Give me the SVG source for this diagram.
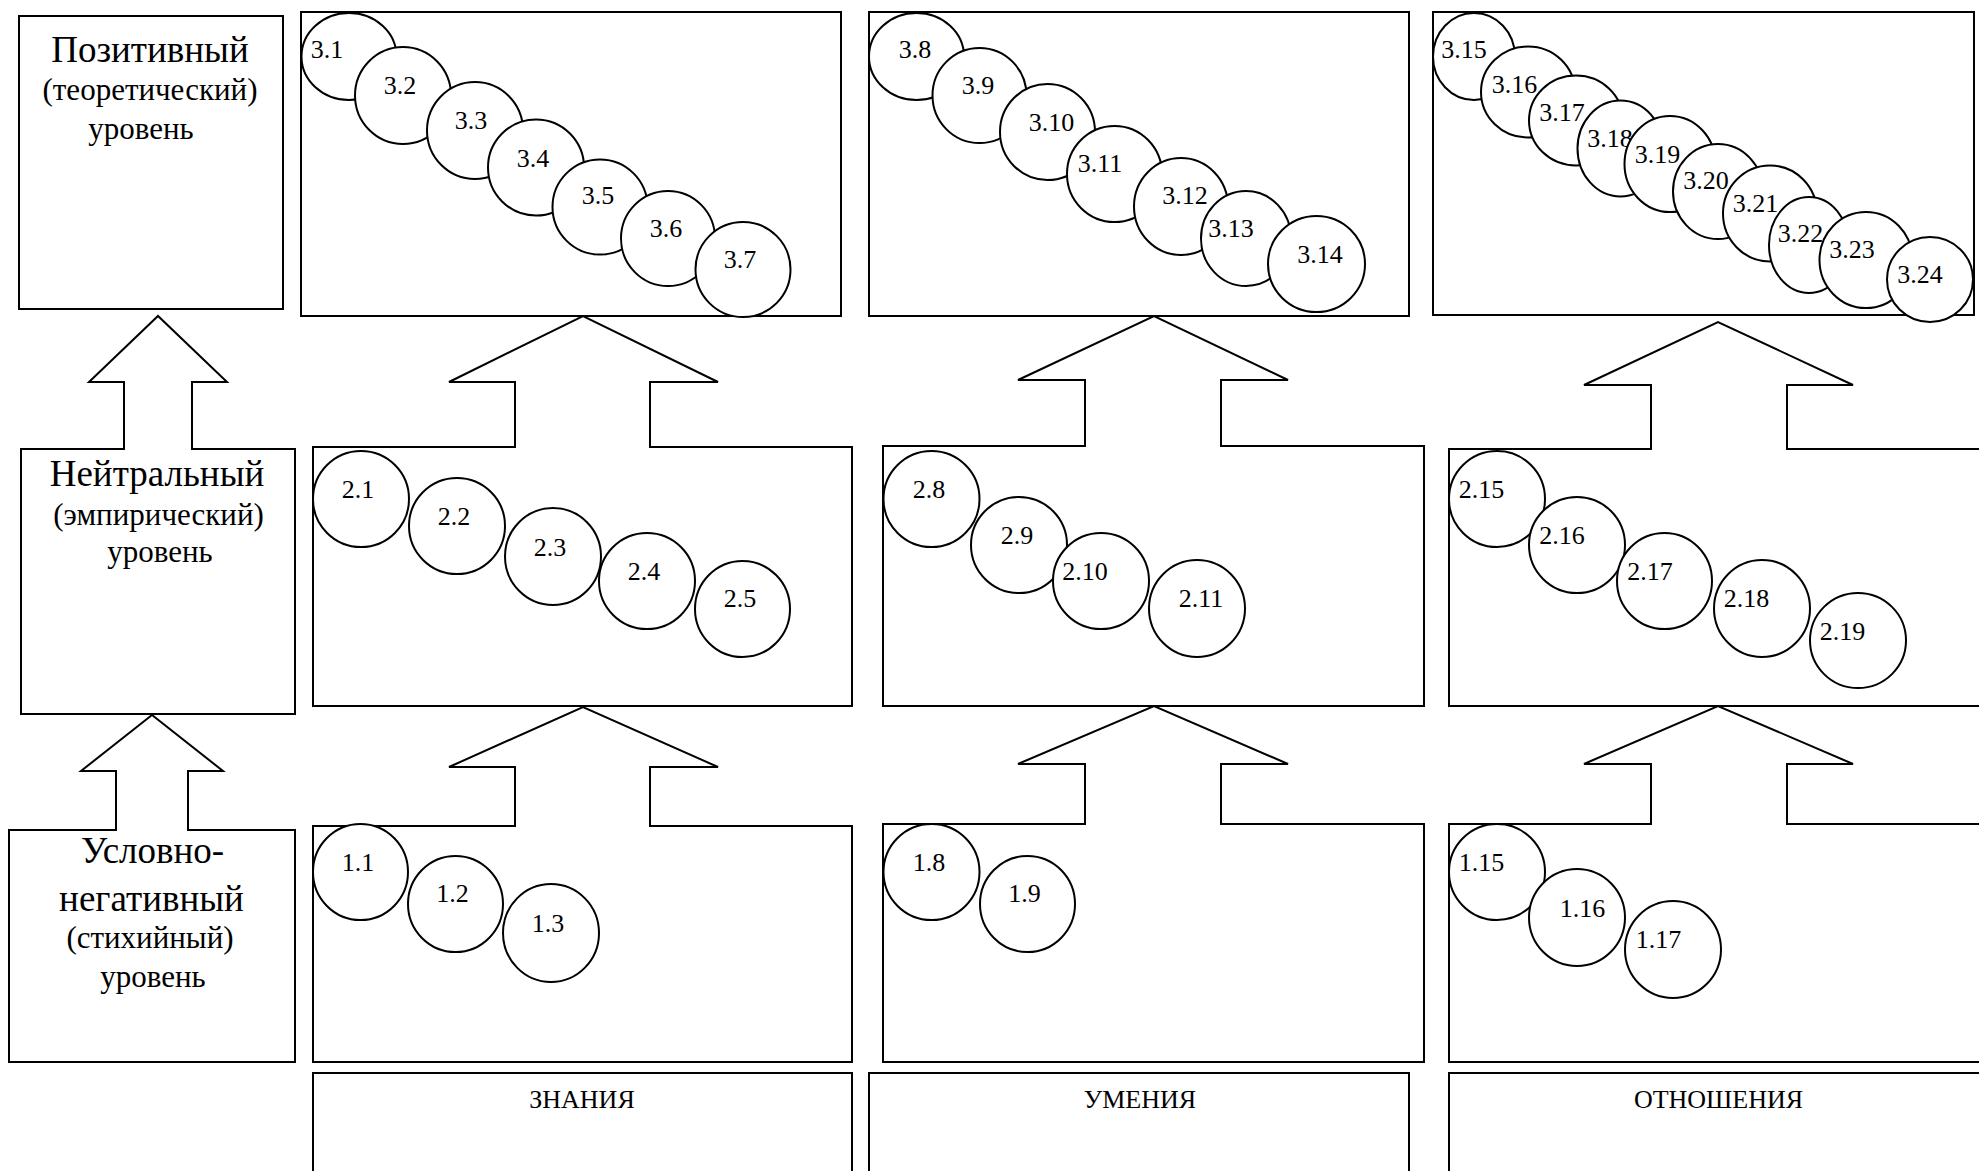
<svg xmlns="http://www.w3.org/2000/svg" width="1979" height="1171" viewBox="0 0 1979 1171">
<style>
.box{fill:#fff;stroke:#000;stroke-width:2}
.arr{fill:#fff;stroke:#000;stroke-width:2;stroke-linejoin:miter}
.nd ellipse{fill:#fff;stroke:#000;stroke-width:2}
text{font-family:"Liberation Serif","Times New Roman",serif;fill:#000}
.nd text{font-size:26px;text-anchor:middle}
.lv{text-anchor:middle}
.big{font-size:37px}
.sm{font-size:31px}
.lb{font-size:26px;text-anchor:middle}
</style>
<rect width="1979" height="1171" fill="#fff"/>

<g id="level-positive">
<rect class="box" x="19" y="16" width="264" height="293"/>
<text class="lv big" x="150" y="62">Позитивный</text>
<text class="lv sm" x="150" y="100">(теоретический)</text>
<text class="lv sm" x="141" y="139">уровень</text>
</g>
<g id="level-neutral">
<rect class="box" x="21" y="449" width="274" height="265"/>
<text class="lv big" x="157" y="486">Нейтральный</text>
<text class="lv sm" x="158.5" y="525">(эмпирический)</text>
<text class="lv sm" x="160" y="562">уровень</text>
</g>
<g id="level-negative">
<rect class="box" x="9" y="830" width="286" height="232"/>
<text class="lv big" x="152.5" y="863">Условно-</text>
<text class="lv big" x="151.5" y="911">негативный</text>
<text class="lv sm" x="150" y="948">(стихийный)</text>
<text class="lv sm" x="153" y="987">уровень</text>
</g>

<g id="box-k3"><rect class="box" x="301" y="12" width="540" height="304"/></g>
<g id="box-k2"><rect class="box" x="313" y="447" width="539" height="259"/></g>
<g id="box-k1"><rect class="box" x="313" y="826" width="539" height="236"/></g>
<g id="box-u3"><rect class="box" x="869" y="12" width="540" height="304"/></g>
<g id="box-u2"><rect class="box" x="883" y="446" width="541" height="260"/></g>
<g id="box-u1"><rect class="box" x="883" y="824" width="541" height="238"/></g>
<g id="box-o3"><rect class="box" x="1433" y="12" width="541" height="303"/></g>
<g id="box-o2"><rect class="box" x="1449" y="449" width="560" height="257"/></g>
<g id="box-o1"><rect class="box" x="1449" y="824" width="560" height="238"/></g>

<g id="label-znaniya"><rect class="box" x="313" y="1073" width="539" height="120"/><text class="lb" x="582" y="1108">ЗНАНИЯ</text></g>
<g id="label-umeniya"><rect class="box" x="869" y="1073" width="540" height="120"/><text class="lb" x="1140" y="1108">УМЕНИЯ</text></g>
<g id="label-otnosheniya"><rect class="box" x="1449" y="1073" width="560" height="120"/><text class="lb" x="1718.5" y="1108">ОТНОШЕНИЯ</text></g>

<g id="connectors">
<path class="arr" d="M124,450 V382 H89 L158,316 L227,382 H192 V450"/>
<path class="arr" d="M116,831 V771 H81 L152,715 L223,771 H188 V831"/>
<path class="arr" d="M515,448 V382 H449 L583,316 L718,382 H650 V448"/>
<path class="arr" d="M515,827 V767 H449 L583,707 L718,767 H650 V827"/>
<path class="arr" d="M1085,447 V380 H1018 L1154,316 L1288,380 H1221 V447"/>
<path class="arr" d="M1085,825 V764 H1018 L1154,706 L1288,764 H1221 V825"/>
<path class="arr" d="M1651,450 V385 H1584 L1718,322 L1853,385 H1787 V450"/>
<path class="arr" d="M1651,825 V764 H1584 L1718,706 L1853,764 H1787 V825"/>
</g>

<g id="n3-1" class="nd"><ellipse cx="349" cy="56.5" rx="47.5" ry="43.5"/><text x="327" y="58">3.1</text></g>
<g id="n3-2" class="nd"><ellipse cx="403" cy="95.5" rx="48" ry="48.5"/><text x="400" y="94">3.2</text></g>
<g id="n3-3" class="nd"><ellipse cx="475" cy="130.5" rx="48" ry="48.5"/><text x="471" y="129">3.3</text></g>
<g id="n3-4" class="nd"><ellipse cx="536" cy="167.5" rx="48" ry="48"/><text x="533" y="167">3.4</text></g>
<g id="n3-5" class="nd"><ellipse cx="600" cy="207" rx="47.5" ry="47.5"/><text x="598" y="204">3.5</text></g>
<g id="n3-6" class="nd"><ellipse cx="668" cy="238.5" rx="47" ry="47.5"/><text x="666" y="237">3.6</text></g>
<g id="n3-7" class="nd"><ellipse cx="743" cy="269.5" rx="47.5" ry="47.5"/><text x="740" y="268">3.7</text></g>

<g id="n3-8" class="nd"><ellipse cx="916.5" cy="56.5" rx="47.5" ry="43.5"/><text x="915" y="58">3.8</text></g>
<g id="n3-9" class="nd"><ellipse cx="979.5" cy="95.5" rx="47" ry="47.5"/><text x="978" y="94">3.9</text></g>
<g id="n3-10" class="nd"><ellipse cx="1047.5" cy="132" rx="47.5" ry="48"/><text x="1051.5" y="131">3.10</text></g>
<g id="n3-11" class="nd"><ellipse cx="1114.5" cy="174" rx="47.5" ry="48"/><text x="1100" y="172">3.11</text></g>
<g id="n3-12" class="nd"><ellipse cx="1181" cy="206.5" rx="47" ry="48.5"/><text x="1185" y="204">3.12</text></g>
<g id="n3-13" class="nd"><ellipse cx="1246" cy="238.5" rx="45" ry="47.5"/><text x="1231" y="237">3.13</text></g>
<g id="n3-14" class="nd"><ellipse cx="1316.5" cy="264" rx="48.5" ry="48"/><text x="1320" y="263">3.14</text></g>

<g id="n3-15" class="nd"><ellipse cx="1474" cy="56.5" rx="41" ry="43.5"/><text x="1464" y="58">3.15</text></g>
<g id="n3-16" class="nd"><ellipse cx="1528" cy="92" rx="47" ry="45.5"/><text x="1514.5" y="93">3.16</text></g>
<g id="n3-17" class="nd"><ellipse cx="1576" cy="120.5" rx="47" ry="45"/><text x="1562" y="121">3.17</text></g>
<g id="n3-18" class="nd"><ellipse cx="1620.5" cy="148.5" rx="43" ry="48"/><text x="1610" y="147">3.18</text></g>
<g id="n3-19" class="nd"><ellipse cx="1670" cy="164" rx="45.5" ry="48"/><text x="1657.5" y="163">3.19</text></g>
<g id="n3-20" class="nd"><ellipse cx="1718" cy="191.5" rx="45" ry="47.5"/><text x="1706" y="189">3.20</text></g>
<g id="n3-21" class="nd"><ellipse cx="1770" cy="213.5" rx="47" ry="48"/><text x="1755.5" y="211.5">3.21</text></g>
<g id="n3-22" class="nd"><ellipse cx="1809" cy="245" rx="40" ry="48"/><text x="1800.5" y="242">3.22</text></g>
<g id="n3-23" class="nd"><ellipse cx="1866" cy="260" rx="46.5" ry="48"/><text x="1852" y="258">3.23</text></g>
<g id="n3-24" class="nd"><ellipse cx="1930" cy="279.5" rx="43" ry="42.5"/><text x="1920" y="283">3.24</text></g>

<g id="n2-1" class="nd"><ellipse cx="361" cy="499" rx="48" ry="48"/><text x="358" y="498">2.1</text></g>
<g id="n2-2" class="nd"><ellipse cx="457" cy="526" rx="48" ry="48"/><text x="454" y="525">2.2</text></g>
<g id="n2-3" class="nd"><ellipse cx="553" cy="556.5" rx="48" ry="48.5"/><text x="550" y="556">2.3</text></g>
<g id="n2-4" class="nd"><ellipse cx="647" cy="581" rx="48" ry="48"/><text x="644" y="580">2.4</text></g>
<g id="n2-5" class="nd"><ellipse cx="742.5" cy="609" rx="47.5" ry="48"/><text x="740" y="607">2.5</text></g>

<g id="n2-8" class="nd"><ellipse cx="931.5" cy="499" rx="48" ry="48"/><text x="929" y="498">2.8</text></g>
<g id="n2-9" class="nd"><ellipse cx="1019" cy="545" rx="48" ry="48"/><text x="1017" y="544">2.9</text></g>
<g id="n2-10" class="nd"><ellipse cx="1101" cy="581" rx="48" ry="48"/><text x="1085" y="580">2.10</text></g>
<g id="n2-11" class="nd"><ellipse cx="1197" cy="608.5" rx="48" ry="48.5"/><text x="1201" y="607">2.11</text></g>

<g id="n2-15" class="nd"><ellipse cx="1497" cy="499" rx="48" ry="48"/><text x="1481.5" y="498">2.15</text></g>
<g id="n2-16" class="nd"><ellipse cx="1577" cy="545" rx="48" ry="48"/><text x="1562" y="544">2.16</text></g>
<g id="n2-17" class="nd"><ellipse cx="1664.5" cy="581" rx="47.5" ry="48"/><text x="1650" y="580">2.17</text></g>
<g id="n2-18" class="nd"><ellipse cx="1762" cy="608.5" rx="48" ry="48.5"/><text x="1746.5" y="607">2.18</text></g>
<g id="n2-19" class="nd"><ellipse cx="1858" cy="640.5" rx="48" ry="47.5"/><text x="1842.5" y="640">2.19</text></g>

<g id="n1-1" class="nd"><ellipse cx="360.5" cy="872" rx="47.5" ry="48"/><text x="358" y="871">1.1</text></g>
<g id="n1-2" class="nd"><ellipse cx="455.5" cy="904" rx="47.5" ry="48"/><text x="452.5" y="902">1.2</text></g>
<g id="n1-3" class="nd"><ellipse cx="551" cy="933" rx="48" ry="49"/><text x="548" y="932">1.3</text></g>

<g id="n1-8" class="nd"><ellipse cx="931.5" cy="872" rx="48" ry="48"/><text x="929" y="871">1.8</text></g>
<g id="n1-9" class="nd"><ellipse cx="1027.5" cy="904" rx="47.5" ry="48"/><text x="1024.5" y="902">1.9</text></g>

<g id="n1-15" class="nd"><ellipse cx="1497" cy="872" rx="48" ry="48"/><text x="1481.5" y="871">1.15</text></g>
<g id="n1-16" class="nd"><ellipse cx="1577" cy="917.5" rx="48" ry="48.5"/><text x="1582.5" y="917">1.16</text></g>
<g id="n1-17" class="nd"><ellipse cx="1673" cy="949.5" rx="48" ry="48.5"/><text x="1658.5" y="948">1.17</text></g>
</svg>
